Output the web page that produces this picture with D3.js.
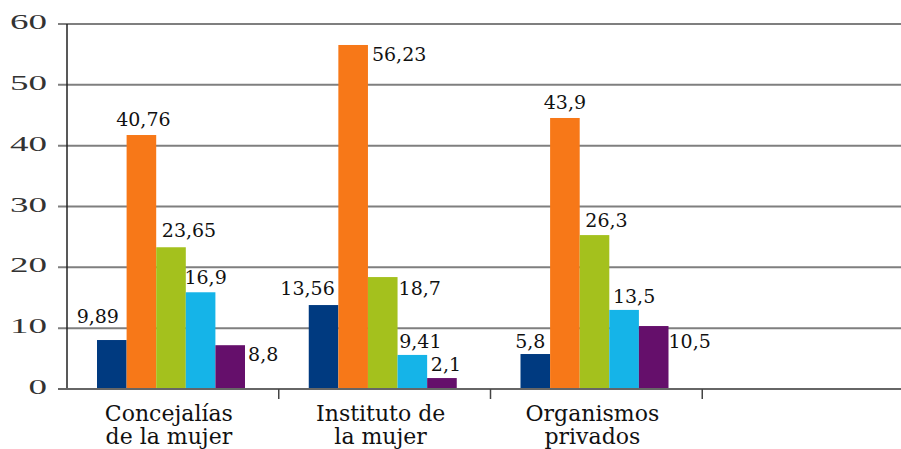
<!DOCTYPE html>
<html>
<head>
<meta charset="utf-8">
<script src="https://cdn.jsdelivr.net/npm/d3@7"></script>
<style>
  body { margin: 0; background: #fff; }
  svg { display: block; }
  text { font-family: "DejaVu Serif", serif; fill: #111; }
</style>
</head>
<body>
<div class="chart"></div>
<script>
// categories (last slot is empty in the original)
var categories = ["Concejalías\nde la mujer", "Instituto de\nla mujer", "Organismos\nprivados", ""];
var series = ["s1", "s2", "s3", "s4", "s5"];
var colors = ["#003a80", "#f77818", "#a4c11d", "#15b4e8", "#650f6b"];
// bar heights as drawn
var concejalias = [8.05, 41.75, 23.3, 15.9, 7.2];
var instituto   = [13.8, 56.55, 18.4, 5.6, 1.8];
var organismos  = [5.75, 44.55, 25.3, 13.0, 10.35];
// printed labels
var concejaliasLbl = ["9,89", "40,76", "23,65", "16,9", "8,8"];
var institutoLbl   = ["13,56", "56,23", "18,7", "9,41", "2,1"];
var organismosLbl  = ["5,8", "43,9", "26,3", "13,5", "10,5"];
var yTicks = [0, 10, 20, 30, 40, 50, 60];

var values = [concejalias, instituto, organismos];
var labels = [concejaliasLbl, institutoLbl, organismosLbl];

// label offsets relative to bar top centre [dx, dy of baseline]
var lblOffset = [
    [[-14, -17], [2, -9], [18, -10], [5, -8], [33, 16]],
    [[-16, -10], [46, 16], [37, 18], [8, -7], [4, -7]],
    [[-5, -6], [0, -9], [12, -8], [10, -7], [36, 22]]
];

var width = 901, height = 449;
var svg = d3.select(".chart").append("svg")
    .attr("width", width)
    .attr("height", height);

var y = d3.scaleLinear().domain([0, 60]).range([389, 24]);
var x0 = d3.scaleBand().domain(categories).range([67, 914]);
var x1 = d3.scaleBand().domain(series).range([30, 178]);

// gridlines
svg.selectAll(".grid")
    .data(yTicks.filter(function(d) { return d > 0; }))
    .enter().append("line")
    .attr("x1", 58).attr("x2", width)
    .attr("y1", function(d) { return y(d); })
    .attr("y2", function(d) { return y(d); })
    .attr("stroke", "#7f7f7f")
    .attr("stroke-width", 2);

// y tick labels
svg.selectAll(".ytick")
    .data(yTicks)
    .enter().append("text")
    .attr("x", 47)
    .attr("y", function(d) { return y(d) + 5; })
    .attr("text-anchor", "end")
    .attr("font-size", 22)
    .attr("textLength", function(d) { return String(d).length * 18.5; })
    .attr("lengthAdjust", "spacingAndGlyphs")
    .style("font-family", "'Liberation Serif', serif")
    .style("fill", "#333")
    .text(function(d) { return d; });

// bars
var groups = svg.selectAll(".group")
    .data(values)
    .enter().append("g")
    .attr("transform", function(d, i) { return "translate(" + x0(categories[i]) + ",0)"; });

groups.selectAll("rect")
    .data(function(d) { return d; })
    .enter().append("rect")
    .attr("x", function(d, j) { return x1(series[j]); })
    .attr("width", x1.bandwidth())
    .attr("y", function(d) { return y(d); })
    .attr("height", function(d) { return y(0) - y(d); })
    .attr("fill", function(d, j) { return colors[j]; });

groups.each(function(d, i) {
    d3.select(this).selectAll(".lbl")
	.data(d)
	.enter().append("text")
	.attr("x", function(v, j) { return x1(series[j]) + x1.bandwidth() / 2 + lblOffset[i][j][0]; })
	.attr("y", function(v, j) { return y(v) + lblOffset[i][j][1]; })
	.attr("text-anchor", "middle")
	.attr("font-size", 19)
	.text(function(v, j) { return labels[i][j]; });
});

// axes
svg.append("line")
    .attr("x1", 67).attr("x2", 67).attr("y1", y(60)).attr("y2", y(0))
    .attr("stroke", "#222").attr("stroke-width", 1.5);
svg.append("line")
    .attr("x1", 58).attr("x2", width).attr("y1", y(0)).attr("y2", y(0))
    .attr("stroke", "#666").attr("stroke-width", 2);

svg.selectAll(".sep")
    .data(categories.slice(0, 3))
    .enter().append("line")
    .attr("x1", function(d) { return x0(d) + x0.bandwidth(); })
    .attr("x2", function(d) { return x0(d) + x0.bandwidth(); })
    .attr("y1", y(0)).attr("y2", y(0) + 10)
    .attr("stroke", "#444").attr("stroke-width", 1.5);

// category labels
categories.forEach(function(c) {
    var t = svg.append("text")
	.attr("text-anchor", "middle")
	.attr("font-size", 22);
    c.split("\n").forEach(function(line, k) {
	t.append("tspan")
	    .attr("x", x0(c) + x0.bandwidth() / 2 - 4)
	    .attr("y", 421 + k * 23)
	    .text(line);
    });
});
</script>
</body>
</html>
